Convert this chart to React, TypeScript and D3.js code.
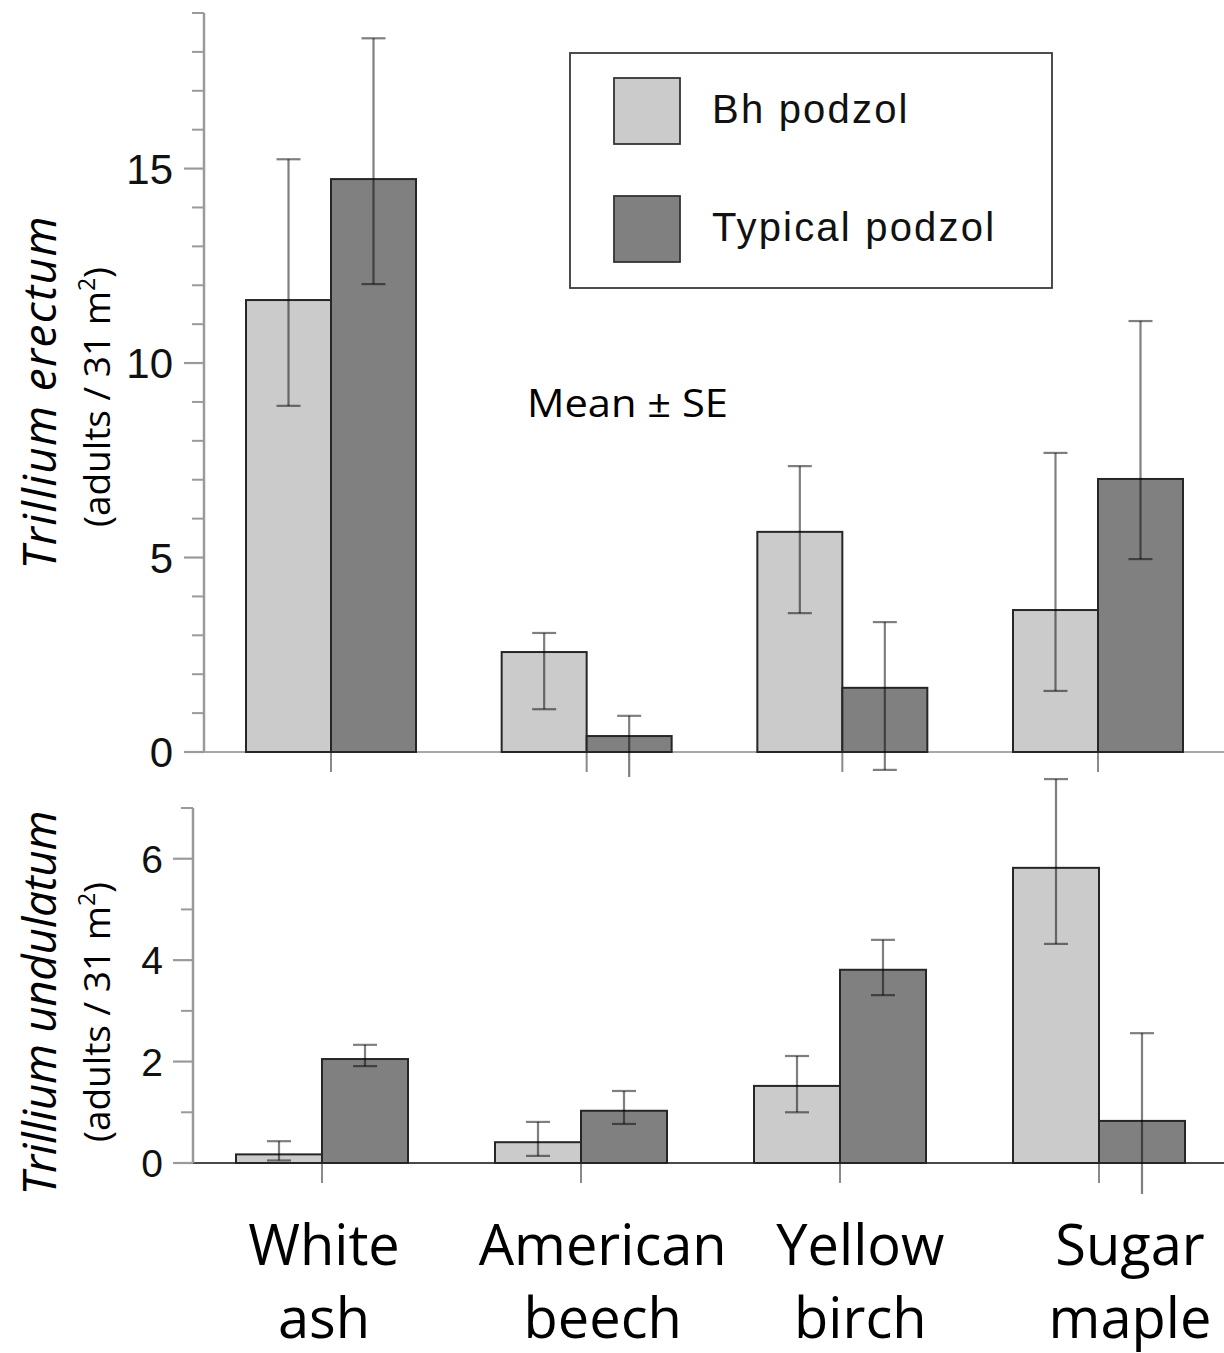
import React from "react";
import * as d3 from "d3";

// ---------- data ----------
const categories = ["White ash", "American beech", "Yellow birch", "Sugar maple"];
const categoryLines = [
  ["White", "ash"],
  ["American", "beech"],
  ["Yellow", "birch"],
  ["Sugar", "maple"],
];
const seriesNames = ["Bh podzol", "Typical podzol"];

// Trillium erectum (adults / 31 m²)
const erectumBh = [11.62, 2.57, 5.66, 3.65];
const erectumBhLow = [8.9, 1.1, 3.57, 1.57];
const erectumBhHigh = [15.24, 3.06, 7.35, 7.69];
const erectumTyp = [14.73, 0.41, 1.65, 7.02];
const erectumTypLow = [12.03, -0.7, -0.46, 4.96];
const erectumTypHigh = [18.35, 0.93, 3.34, 11.08];

// Trillium undulatum (adults / 31 m²)
const undulatumBh = [0.17, 0.41, 1.52, 5.82];
const undulatumBhLow = [0.05, 0.14, 1.0, 4.32];
const undulatumBhHigh = [0.43, 0.81, 2.11, 7.57];
const undulatumTyp = [2.05, 1.03, 3.81, 0.83];
const undulatumTypLow = [1.91, 0.77, 3.31, -0.7];
const undulatumTypHigh = [2.33, 1.42, 4.4, 2.56];

const erectumTicks = [0, 5, 10, 15];
const undulatumTicks = [0, 2, 4, 6];

// ---------- style ----------
const FILL = ["#cbcbcb", "#808080"];
const SANS = "'Open Sans', 'Noto Sans', sans-serif";
const ARIAL = "'Liberation Sans', Arial, sans-serif";
const AXIS = "#9a9a9a";

type PanelProps = {
  id: string;
  yMax: number;
  yBottom: number;
  yTop: number;
  axisX: number;
  centers: [number, number];
  barW: number;
  majorTicks: number[];
  tickFont: number;
  labelGap: number;
  baselineColor: string;
  clipBottom: number;
  bh: number[];
  bhLow: number[];
  bhHigh: number[];
  typ: number[];
  typLow: number[];
  typHigh: number[];
};

function Panel(p: PanelProps) {
  const y = d3.scaleLinear().domain([0, p.yMax]).range([p.yBottom, p.yTop]);
  const x = d3.scalePoint<string>().domain(categories).range(p.centers);
  const minor = d3.range(0, p.yMax + 1, 1).filter((v) => !p.majorTicks.includes(v));
  const series = [
    { vals: p.bh, lo: p.bhLow, hi: p.bhHigh, side: -1 },
    { vals: p.typ, lo: p.typLow, hi: p.typHigh, side: 1 },
  ];
  const capW = 24;
  return (
    <g>
      <defs>
        <clipPath id={p.id}>
          <rect x={0} y={0} width={1224} height={p.clipBottom} />
        </clipPath>
      </defs>
      {/* baseline */}
      <line x1={p.axisX - 20} x2={1224} y1={y(0)} y2={y(0)} stroke={p.baselineColor} strokeWidth={2.2} />
      {/* y axis */}
      <line x1={p.axisX} x2={p.axisX} y1={y(0)} y2={y(p.yMax)} stroke={AXIS} strokeWidth={2.5} />
      {p.majorTicks.map((t) => (
        <g key={"M" + t}>
          <line x1={p.axisX - 20} x2={p.axisX} y1={y(t)} y2={y(t)} stroke={AXIS} strokeWidth={2.2} />
          <text
            x={p.axisX - p.labelGap}
            y={y(t)}
            dy="0.36em"
            textAnchor="end"
            fontFamily={ARIAL}
            fontSize={p.tickFont}
            fill="#111"
          >
            {t}
          </text>
        </g>
      ))}
      {minor.map((t) => (
        <line
          key={"m" + t}
          x1={p.axisX - 12}
          x2={p.axisX}
          y1={y(t)}
          y2={y(t)}
          stroke={AXIS}
          strokeWidth={2}
        />
      ))}
      {/* group ticks */}
      {categories.map((c) => (
        <line key={"g" + c} x1={x(c)!} x2={x(c)!} y1={y(0)} y2={y(0) + 20} stroke="#8a8a8a" strokeWidth={2} />
      ))}
      {/* bars */}
      {series.map((s, si) =>
        categories.map((c, i) => {
          const x0 = s.side < 0 ? x(c)! - p.barW : x(c)!;
          return (
            <rect
              key={"b" + si + c}
              x={x0}
              y={y(s.vals[i])}
              width={p.barW}
              height={y(0) - y(s.vals[i])}
              fill={FILL[si]}
              stroke="#262626"
              strokeWidth={2}
            />
          );
        })
      )}
      {/* error bars */}
      <g clipPath={`url(#${p.id})`} stroke="#000" strokeOpacity={0.5} strokeWidth={2.2}>
        {series.map((s, si) =>
          categories.map((c, i) => {
            const cx = x(c)! + (s.side * p.barW) / 2;
            return (
              <g key={"e" + si + c}>
                <line x1={cx} x2={cx} y1={y(s.lo[i])} y2={y(s.hi[i])} />
                <line x1={cx - capW / 2} x2={cx + capW / 2} y1={y(s.hi[i])} y2={y(s.hi[i])} />
                <line x1={cx - capW / 2} x2={cx + capW / 2} y1={y(s.lo[i])} y2={y(s.lo[i])} />
              </g>
            );
          })
        )}
      </g>
    </g>
  );
}

function YLabel({
  cx,
  cy,
  species,
  speciesLen,
  unitX,
  unitCy,
}: {
  cx: number;
  cy: number;
  species: string;
  speciesLen: number;
  unitX: number;
  unitCy: number;
}) {
  return (
    <g>
      <text
        transform={`translate(${cx},${cy}) rotate(-90)`}
        textAnchor="middle"
        fontFamily={SANS}
        fontStyle="italic"
        fontSize={46}
        textLength={speciesLen}
        lengthAdjust="spacing"
        fill="#000"
      >
        {species}
      </text>
      <text
        transform={`translate(${unitX},${unitCy}) rotate(-90)`}
        textAnchor="middle"
        fontFamily={SANS}
        fontSize={37}
        fill="#000"
      >
        (adults / 31 m
        <tspan fontSize={23} dy={-15}>
          2
        </tspan>
        <tspan dy={15}>)</tspan>
      </text>
    </g>
  );
}

export default function App() {
  const labelX = d3.scalePoint<string>().domain(categories).range([324, 1130]);
  const labelNudge = [0, 10, -1, 0];
  return (
    <div style={{ position: "absolute", left: 0, top: 0 }}>
      <svg width={1224} height={1353} style={{ display: "block", background: "#fff" }}>
        <rect width={1224} height={1353} fill="#fff" />
        <Panel
          id="clipTop"
          yMax={19}
          yBottom={752}
          yTop={13}
          axisX={204}
          centers={[331, 1098]}
          barW={85}
          majorTicks={erectumTicks}
          tickFont={42}
          labelGap={31}
          baselineColor="#a8a8a8"
          clipBottom={777}
          bh={erectumBh}
          bhLow={erectumBhLow}
          bhHigh={erectumBhHigh}
          typ={erectumTyp}
          typLow={erectumTypLow}
          typHigh={erectumTypHigh}
        />
        <Panel
          id="clipBottom"
          yMax={7}
          yBottom={1163}
          yTop={808}
          axisX={193}
          centers={[322, 1099]}
          barW={86}
          majorTicks={undulatumTicks}
          tickFont={39}
          labelGap={30}
          baselineColor="#4a4a4a"
          clipBottom={1194}
          bh={undulatumBh}
          bhLow={undulatumBhLow}
          bhHigh={undulatumBhHigh}
          typ={undulatumTyp}
          typLow={undulatumTypLow}
          typHigh={undulatumTypHigh}
        />

        {/* legend */}
        <g>
          <rect x={570} y={53} width={482} height={235} fill="#fff" stroke="#3a3a3a" strokeWidth={1.8} />
          {seriesNames.map((s, i) => (
            <g key={s}>
              <rect x={614} y={78 + i * 118} width={66} height={66} fill={FILL[i]} stroke="#333" strokeWidth={1.8} />
              <text x={712} y={123 + i * 118} fontFamily={ARIAL} fontSize={40} letterSpacing={2.2} fill="#111">
                {s}
              </text>
            </g>
          ))}
        </g>

        <text x={527} y={417} fontFamily={SANS} fontSize={39} textLength={201} lengthAdjust="spacingAndGlyphs" fill="#000">
          Mean ± SE
        </text>

        <YLabel cx={56} cy={393} species="Trillium erectum" speciesLen={353} unitX={110} unitCy={397} />
        <YLabel cx={56} cy={1003} species="Trillium undulatum" speciesLen={385} unitX={110} unitCy={1012} />

        {categories.map((c, i) => (
          <text
            key={c}
            x={labelX(c)! + labelNudge[i]}
            y={1265}
            textAnchor="middle"
            fontFamily={SANS}
            fontSize={56}
            fill="#000"
          >
            <tspan x={labelX(c)! + labelNudge[i]}>{categoryLines[i][0]}</tspan>
            <tspan x={labelX(c)! + labelNudge[i]} dy={73}>
              {categoryLines[i][1]}
            </tspan>
          </text>
        ))}
      </svg>
    </div>
  );
}
